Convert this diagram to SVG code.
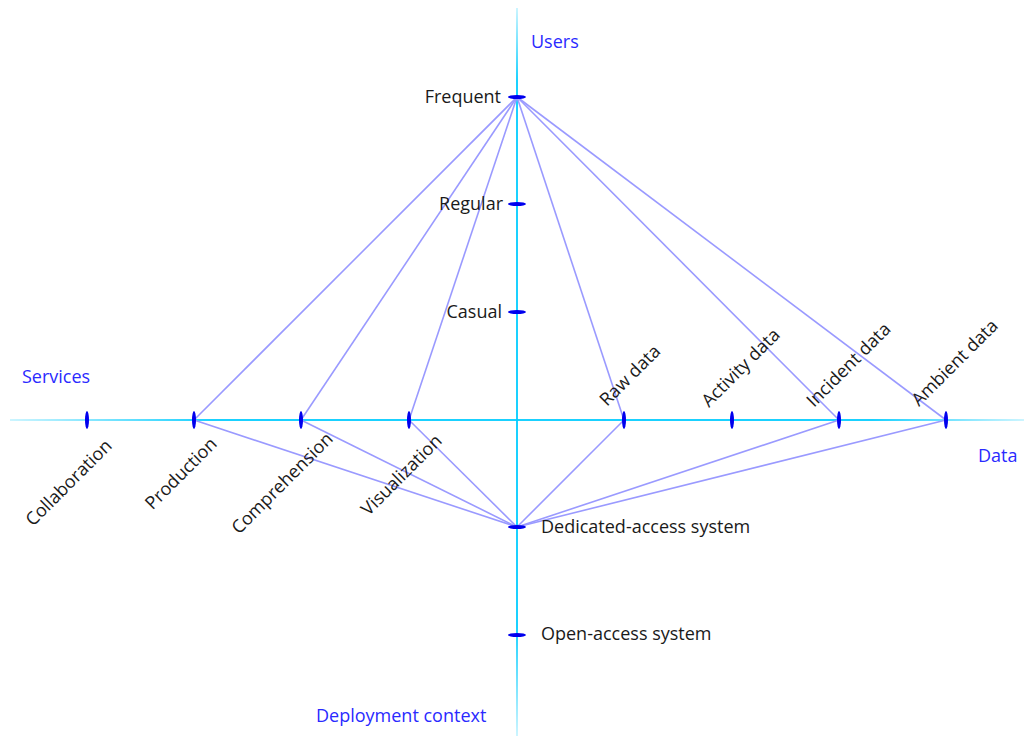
<svg xmlns="http://www.w3.org/2000/svg" width="1024" height="736" viewBox="0 0 1024 736">
<style>
.lbl{font-family:"Open Sans","Liberation Sans",sans-serif;font-size:18px;fill:#1a1a1a}
.ttl{font-family:"Open Sans","Liberation Sans",sans-serif;font-size:18px;fill:#2a2aff}
.tick{fill:#0000ee}
.conn{stroke:#9a9aff;stroke-width:1.6;fill:none}
</style>
<defs>
<linearGradient id="gv" x1="0" y1="0" x2="0" y2="1">
<stop offset="0" stop-color="#00ccff" stop-opacity="0.2"/>
<stop offset="0.1" stop-color="#00ccff" stop-opacity="0.9"/>
<stop offset="0.85" stop-color="#00ccff" stop-opacity="0.9"/>
<stop offset="1" stop-color="#00ccff" stop-opacity="0.2"/>
</linearGradient>
<linearGradient id="gh" x1="0" y1="0" x2="1" y2="0">
<stop offset="0" stop-color="#00ccff" stop-opacity="0.2"/>
<stop offset="0.2" stop-color="#00ccff" stop-opacity="0.9"/>
<stop offset="0.85" stop-color="#00ccff" stop-opacity="0.9"/>
<stop offset="1" stop-color="#00ccff" stop-opacity="0.2"/>
</linearGradient>
</defs>
<rect width="1024" height="736" fill="#ffffff"/>
<g id="axes">
<rect x="516" y="8" width="2" height="728" fill="url(#gv)"/>
<rect x="10" y="419" width="1014" height="2" fill="url(#gh)"/>
<text class="ttl" x="531" y="48">Users</text>
<text class="ttl" x="22" y="383">Services</text>
<text class="ttl" x="978" y="462">Data</text>
<text class="ttl" x="316" y="722">Deployment context</text>
</g>
<g id="connectors">
<line class="conn" x1="517" y1="97" x2="194" y2="420"/>
<line class="conn" x1="517" y1="97" x2="301" y2="420"/>
<line class="conn" x1="517" y1="97" x2="409" y2="420"/>
<line class="conn" x1="517" y1="97" x2="624" y2="420"/>
<line class="conn" x1="517" y1="97" x2="839" y2="420"/>
<line class="conn" x1="517" y1="97" x2="946" y2="420"/>
<line class="conn" x1="517" y1="527" x2="194" y2="420"/>
<line class="conn" x1="517" y1="527" x2="301" y2="420"/>
<line class="conn" x1="517" y1="527" x2="409" y2="420"/>
<line class="conn" x1="517" y1="527" x2="624" y2="420"/>
<line class="conn" x1="517" y1="527" x2="839" y2="420"/>
<line class="conn" x1="517" y1="527" x2="946" y2="420"/>
</g>
<g id="frequent"><ellipse class="tick" cx="517" cy="97" rx="9" ry="2"/><text class="lbl" x="501" y="103" text-anchor="end">Frequent</text></g>
<g id="regular"><ellipse class="tick" cx="517" cy="204" rx="9" ry="2"/><text class="lbl" x="503" y="210" text-anchor="end">Regular</text></g>
<g id="casual"><ellipse class="tick" cx="517" cy="312" rx="9" ry="2"/><text class="lbl" x="502" y="318" text-anchor="end">Casual</text></g>
<g id="dedicated"><ellipse class="tick" cx="517" cy="527" rx="9" ry="2"/><text class="lbl" x="541" y="533">Dedicated-access system</text></g>
<g id="open"><ellipse class="tick" cx="517" cy="635" rx="9" ry="2"/><text class="lbl" x="541" y="640">Open-access system</text></g>
<g id="collaboration"><ellipse class="tick" cx="87" cy="420" rx="2" ry="9"/><text class="lbl" text-anchor="end" transform="translate(113,447) rotate(-45)">Collaboration</text></g>
<g id="production"><ellipse class="tick" cx="194" cy="420" rx="2" ry="9"/><text class="lbl" text-anchor="end" transform="translate(218,445) rotate(-45)">Production</text></g>
<g id="comprehension"><ellipse class="tick" cx="301" cy="420" rx="2" ry="9"/><text class="lbl" text-anchor="end" transform="translate(334,440) rotate(-45)">Comprehension</text></g>
<g id="visualization"><ellipse class="tick" cx="409" cy="420" rx="2" ry="9"/><text class="lbl" text-anchor="end" transform="translate(443,442) rotate(-45)">Visualization</text></g>
<g id="rawdata"><ellipse class="tick" cx="624" cy="420" rx="2" ry="9"/><text class="lbl" transform="translate(607,407) rotate(-45)">Raw data</text></g>
<g id="activitydata"><ellipse class="tick" cx="732" cy="420" rx="2" ry="9"/><text class="lbl" transform="translate(709,408) rotate(-45)">Activity data</text></g>
<g id="incidentdata"><ellipse class="tick" cx="839" cy="420" rx="2" ry="9"/><text class="lbl" transform="translate(814,408) rotate(-45)">Incident data</text></g>
<g id="ambientdata"><ellipse class="tick" cx="946" cy="420" rx="2" ry="9"/><text class="lbl" transform="translate(919,407) rotate(-45)">Ambient data</text></g>
</svg>
